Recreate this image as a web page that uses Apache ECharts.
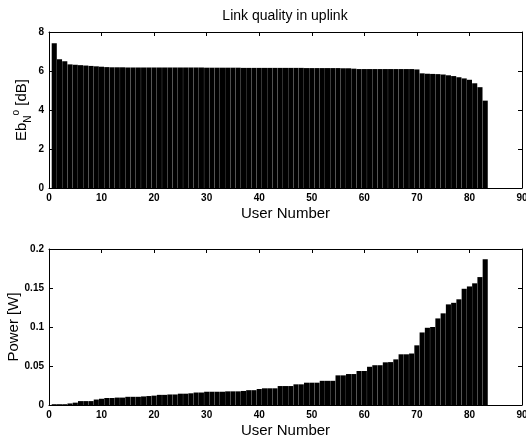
<!DOCTYPE html>
<html>
<head>
<meta charset="utf-8">
<title>Link quality in uplink</title>
<script src="https://cdn.jsdelivr.net/npm/echarts@6/dist/echarts.min.js"></script>
<style>
html, body { margin: 0; padding: 0; background: #fff; }
#main { width: 526px; height: 439px; }
</style>
</head>
<body>
<div id="main"></div>
<script>
// 用户编号 1..83
var users = [];
for (var i = 1; i <= 83; i++) { users.push(i); }

// 上行链路质量 Eb/N0 [dB]
var ebno = [
	7.42, 6.60, 6.50, 6.34, 6.32, 6.30, 6.28, 6.26, 6.24, 6.22,
	6.20, 6.19, 6.19, 6.19, 6.18, 6.18, 6.18, 6.18, 6.18, 6.18,
	6.18, 6.18, 6.18, 6.18, 6.18, 6.18, 6.18, 6.18, 6.18, 6.17,
	6.17, 6.17, 6.17, 6.17, 6.17, 6.17, 6.16, 6.16, 6.16, 6.16,
	6.16, 6.16, 6.16, 6.16, 6.16, 6.16, 6.16, 6.16, 6.15, 6.15,
	6.15, 6.15, 6.15, 6.15, 6.15, 6.14, 6.14, 6.12, 6.10, 6.10,
	6.10, 6.10, 6.10, 6.10, 6.10, 6.10, 6.10, 6.10, 6.10, 6.08,
	5.88, 5.86, 5.85, 5.84, 5.82, 5.78, 5.74, 5.68, 5.62, 5.55,
	5.37, 5.17, 4.48
];

// 发射功率 [W]
var power = [
	0.001, 0.001, 0.001, 0.002, 0.003, 0.005, 0.005, 0.005, 0.007, 0.008,
	0.009, 0.009, 0.0095, 0.0095, 0.0105, 0.0105, 0.0105, 0.011, 0.0115, 0.012,
	0.013, 0.013, 0.0135, 0.0135, 0.0145, 0.0145, 0.015, 0.016, 0.016, 0.017,
	0.017, 0.017, 0.017, 0.0175, 0.0175, 0.0175, 0.018, 0.019, 0.019, 0.0205,
	0.0214, 0.0214, 0.0214, 0.0243, 0.0243, 0.0243, 0.0265, 0.0265, 0.0286, 0.0286,
	0.0286, 0.031, 0.031, 0.031, 0.038, 0.038, 0.0397, 0.0397, 0.0436, 0.0436,
	0.049, 0.051, 0.051, 0.0547, 0.055, 0.0585, 0.065, 0.065, 0.066, 0.0765,
	0.093, 0.099, 0.100, 0.111, 0.1175, 0.129, 0.131, 0.1355, 0.149, 0.152,
	0.156, 0.164, 0.187
];

var xTicks = [0, 10, 20, 30, 40, 50, 60, 70, 80, 90];
var ebnoTicks = [0, 2, 4, 6, 8];
var powerTicks = [0, 0.05, 0.1, 0.15, 0.2];

var FONT = '"Liberation Sans", Arial, Helvetica, sans-serif';

function pairs(vals){
	var out = [];
	for (var i = 0; i < vals.length; i++) {
		out.push([users[i], vals[i]]);
	}
	return out;
}

function xAxisOf(gridIndex, pos){
	var bottom = pos === 'bottom';
	return {
		type: 'value',
		gridIndex: gridIndex,
		position: pos,
		min: xTicks[0],
		max: xTicks[xTicks.length - 1],
		interval: xTicks[1] - xTicks[0],
		name: bottom ? 'User Number' : '',
		nameLocation: 'middle',
		nameGap: 18,
		nameMoveOverlap: false,
		nameTextStyle: { fontFamily: FONT, fontSize: 15, color: '#000' },
		axisLine: { show: true, onZero: false, lineStyle: { color: '#000', width: 1 } },
		axisTick: { show: true, inside: true, length: 4, lineStyle: { color: '#000' } },
		axisLabel: {
			show: bottom, color: '#000', fontFamily: FONT, fontSize: 10,
			fontWeight: 'bold', margin: 5
		},
		splitLine: { show: false }
	};
}

function yAxisOf(gridIndex, pos, ticks, name){
	var left = pos === 'left';
	return {
		type: 'value',
		gridIndex: gridIndex,
		position: pos,
		min: ticks[0],
		max: ticks[ticks.length - 1],
		interval: ticks[1] - ticks[0],
		name: left ? name : '',
		nameLocation: 'middle',
		nameRotate: 90,
		nameGap: left && gridIndex === 1 ? 28 : 16,
		nameMoveOverlap: false,
		nameTextStyle: {
			fontFamily: FONT, fontSize: 15, color: '#000',
			rich: {
				a: { fontFamily: FONT, fontSize: 15, color: '#000', lineHeight: 22 },
				sub: { fontFamily: FONT, fontSize: 10, color: '#000', lineHeight: 13, verticalAlign: 'bottom' },
				sup: { fontFamily: FONT, fontSize: 10, color: '#000', lineHeight: 13, verticalAlign: 'top' }
			}
		},
		axisLine: { show: true, onZero: false, lineStyle: { color: '#000', width: 1 } },
		axisTick: { show: true, inside: true, length: 4, lineStyle: { color: '#000' } },
		axisLabel: {
			show: left, color: '#000', fontFamily: FONT, fontSize: 10,
			fontWeight: 'bold', margin: 5
		},
		splitLine: { show: false }
	};
}

function barSeries(xi, yi, vals){
	return {
		type: 'bar',
		xAxisIndex: xi,
		yAxisIndex: yi,
		data: pairs(vals),
		barWidth: '97%',
		itemStyle: { color: '#000' },
		silent: true,
		animation: false
	};
}

var myChart = echarts.init(document.getElementById('main'), null, { renderer: 'canvas' });

var option = {
	animation: false,
	backgroundColor: '#fff',
	title: {
		text: 'Link quality in uplink',
		left: 285,
		top: 9,
		padding: 0,
		textAlign: 'center',
		textStyle: { fontFamily: FONT, fontSize: 14, fontWeight: 'normal', color: '#000' }
	},
	grid: [
		{ left: 49, right: 4, top: 32, height: 156, outerBoundsMode: 'none', containLabel: false },
		{ left: 49, right: 4, top: 249, height: 156, outerBoundsMode: 'none', containLabel: false }
	],
	xAxis: [
		xAxisOf(0, 'bottom'),
		xAxisOf(0, 'top'),
		xAxisOf(1, 'bottom'),
		xAxisOf(1, 'top')
	],
	yAxis: [
		yAxisOf(0, 'left', ebnoTicks, '{a|Eb}{sub|N}{sup|o}{a| [dB]}'),
		yAxisOf(0, 'right', ebnoTicks, ''),
		yAxisOf(1, 'left', powerTicks, 'Power [W]'),
		yAxisOf(1, 'right', powerTicks, '')
	],
	series: [
		barSeries(0, 0, ebno),
		barSeries(2, 2, power)
	]
};

myChart.setOption(option);
</script>
</body>
</html>
